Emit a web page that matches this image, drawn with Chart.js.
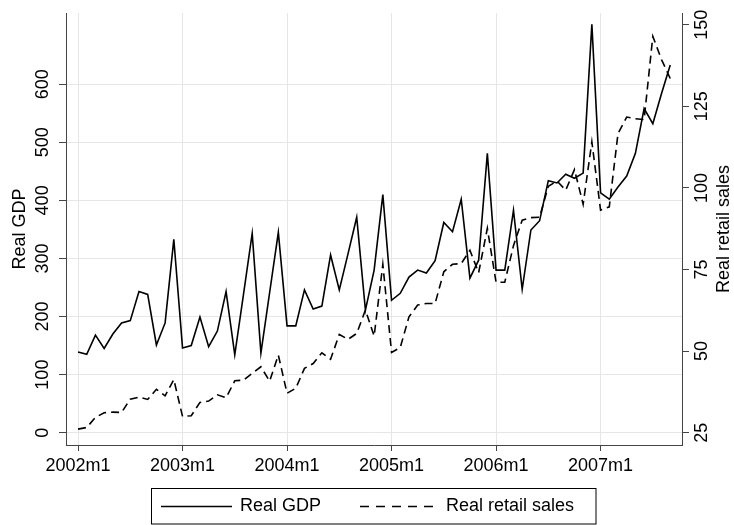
<!DOCTYPE html>
<html>
<head>
<meta charset="utf-8">
<script src="https://cdn.jsdelivr.net/npm/chart.js@4.4.1/dist/chart.umd.min.js"></script>
<style>html,body{margin:0;padding:0;background:#fff}</style>
</head>
<body>
<canvas id="chart" width="734" height="525"></canvas>
<script>
var months = ["2002m1","2002m2","2002m3","2002m4","2002m5","2002m6","2002m7","2002m8","2002m9","2002m10","2002m11","2002m12",
  "2003m1","2003m2","2003m3","2003m4","2003m5","2003m6","2003m7","2003m8","2003m9","2003m10","2003m11","2003m12",
  "2004m1","2004m2","2004m3","2004m4","2004m5","2004m6","2004m7","2004m8","2004m9","2004m10","2004m11","2004m12",
  "2005m1","2005m2","2005m3","2005m4","2005m5","2005m6","2005m7","2005m8","2005m9","2005m10","2005m11","2005m12",
  "2006m1","2006m2","2006m3","2006m4","2006m5","2006m6","2006m7","2006m8","2006m9","2006m10","2006m11","2006m12",
  "2007m1","2007m2","2007m3","2007m4","2007m5","2007m6","2007m7","2007m8","2007m9"];

var realGdp = [139, 135, 168, 145, 170, 189, 193, 243, 238, 151, 189, 333,
  146, 150, 199, 148, 175, 243, 134, 238, 343, 137, 241, 345,
  184, 184, 246, 213, 218, 306, 246, 308, 371, 211, 280, 410,
  228, 240, 268, 280, 275, 296, 362, 346, 402, 266, 297, 481,
  280, 280, 383, 247, 349, 365, 434, 430, 445, 438, 447, 703,
  413, 402, 423, 442, 481, 558, 532, 584, 633];

var realRetail = [26.1, 26.6, 29.7, 31.1, 31.3, 31.2, 35.3, 35.9, 35.2, 38.3, 36.3, 41.3,
  30.0, 30.2, 34.3, 34.7, 36.6, 35.7, 40.9, 41.1, 43.2, 45.2, 40.8, 48.8,
  37.1, 38.6, 44.7, 46.2, 49.5, 47.5, 55.1, 53.6, 55.4, 62.6, 54.6, 76.6,
  49.6, 51.1, 60.5, 64.1, 64.6, 64.6, 74.3, 76.6, 76.8, 80.9, 74.0, 87.6,
  71.1, 71.1, 82.3, 90.1, 90.9, 91.0, 100.5, 102.1, 99.3, 105.6, 95.0, 114.1,
  93.2, 94.2, 116.6, 121.7, 121.2, 120.9, 146.4, 139.3, 133.5];

var xTicks = [0, 12, 24, 36, 48, 60];          // positions of the m1 months
var gdpTicks = [0, 100, 200, 300, 400, 500, 600];
var retailTicks = [25, 50, 75, 100, 125, 150];
var seriesNames = ["Real GDP", "Real retail sales"];

var FONT = "'Liberation Sans', Arial, sans-serif";

function pts(vals) {
  return vals.map(function (v, i) { return { x: i, y: v }; });
}

function setTicks(list) {
  return function (scale) {
    scale.ticks = list.map(function (v) { return { value: v }; });
  };
}

// rotated tick labels, axis titles and the boxed legend, stata style
var extras = {
  id: 'extras',
  afterDraw: function (chart) {
    var ctx = chart.ctx;
    var area = chart.chartArea;
    var yl = chart.scales.y, yr = chart.scales.y1;
    var midY = (area.top + area.bottom) / 2;

    function vtext(txt, x, y, size) {
      ctx.save();
      ctx.translate(x, y);
      ctx.rotate(-Math.PI / 2);
      ctx.font = size + 'px ' + FONT;
      ctx.fillStyle = '#000';
      ctx.textAlign = 'center';
      ctx.textBaseline = 'middle';
      ctx.fillText(txt, 0, 0);
      ctx.restore();
    }

    gdpTicks.forEach(function (v) { vtext(String(v), 43, yl.getPixelForValue(v), 18); });
    retailTicks.forEach(function (v) { vtext(String(v), 702, yr.getPixelForValue(v), 18); });
    vtext(seriesNames[0], 20, midY, 18);
    vtext(seriesNames[1], 724, midY, 18);

    // legend
    ctx.save();
    ctx.strokeStyle = '#000';
    ctx.lineWidth = 1;
    ctx.strokeRect(151.5, 488.5, 444.5, 35.5);
    var ly = 506.5;
    ctx.lineWidth = 1.6;
    ctx.beginPath();
    ctx.moveTo(161, ly); ctx.lineTo(232, ly);
    ctx.stroke();
    ctx.setLineDash([9, 7]);
    ctx.beginPath();
    ctx.moveTo(360, ly); ctx.lineTo(433, ly);
    ctx.stroke();
    ctx.setLineDash([]);
    ctx.font = '18px ' + FONT;
    ctx.fillStyle = '#000';
    ctx.textBaseline = 'middle';
    ctx.textAlign = 'left';
    ctx.fillText(seriesNames[0], 240, ly);
    ctx.fillText(seriesNames[1], 446, ly);
    ctx.restore();
  }
};

var ctx = document.getElementById('chart').getContext('2d');
var chart = new Chart(ctx, {
  type: 'line',
  data: {
    datasets: [{
      label: seriesNames[0],
      data: pts(realGdp),
      yAxisID: 'y',
      borderColor: '#000',
      borderWidth: 1.6,
      pointRadius: 0,
      tension: 0,
      fill: false
    }, {
      label: seriesNames[1],
      data: pts(realRetail),
      yAxisID: 'y1',
      borderColor: '#000',
      borderWidth: 1.6,
      borderDash: [8, 5],
      pointRadius: 0,
      tension: 0,
      fill: false
    }]
  },
  options: {
    responsive: false,
    animation: false,
    layout: { padding: { top: 13, left: 0, right: 0, bottom: 0 } },
    plugins: { legend: { display: false }, tooltip: { enabled: false } },
    scales: {
      x: {
        type: 'linear',
        min: -1.38,
        max: 69.35,
        afterBuildTicks: setTicks(xTicks),
        afterFit: function (s) { s.height = 80; },
        grid: { color: '#e6e6e6', lineWidth: 1, tickColor: '#444', tickLength: 6 },
        border: { color: '#444', width: 1 },
        ticks: {
          color: '#000',
          font: { family: FONT, size: 18 },
          padding: 4,
          maxRotation: 0,
          autoSkip: false,
          callback: function (v) { return months[v]; }
        }
      },
      y: {
        position: 'left',
        min: -21.16,
        max: 722.6,
        afterBuildTicks: setTicks(gdpTicks),
        afterFit: function (s) { s.width = 66; },
        grid: { color: '#e6e6e6', lineWidth: 1, tickColor: '#444', tickLength: 7 },
        border: { color: '#444', width: 1 },
        ticks: { display: false }
      },
      y1: {
        position: 'right',
        min: 21.24,
        max: 153.57,
        afterBuildTicks: setTicks(retailTicks),
        afterFit: function (s) { s.width = 52; },
        grid: { drawOnChartArea: false, tickColor: '#444', tickLength: 7 },
        border: { color: '#444', width: 1 },
        ticks: { display: false }
      }
    }
  },
  plugins: [extras]
});
</script>
</body>
</html>
